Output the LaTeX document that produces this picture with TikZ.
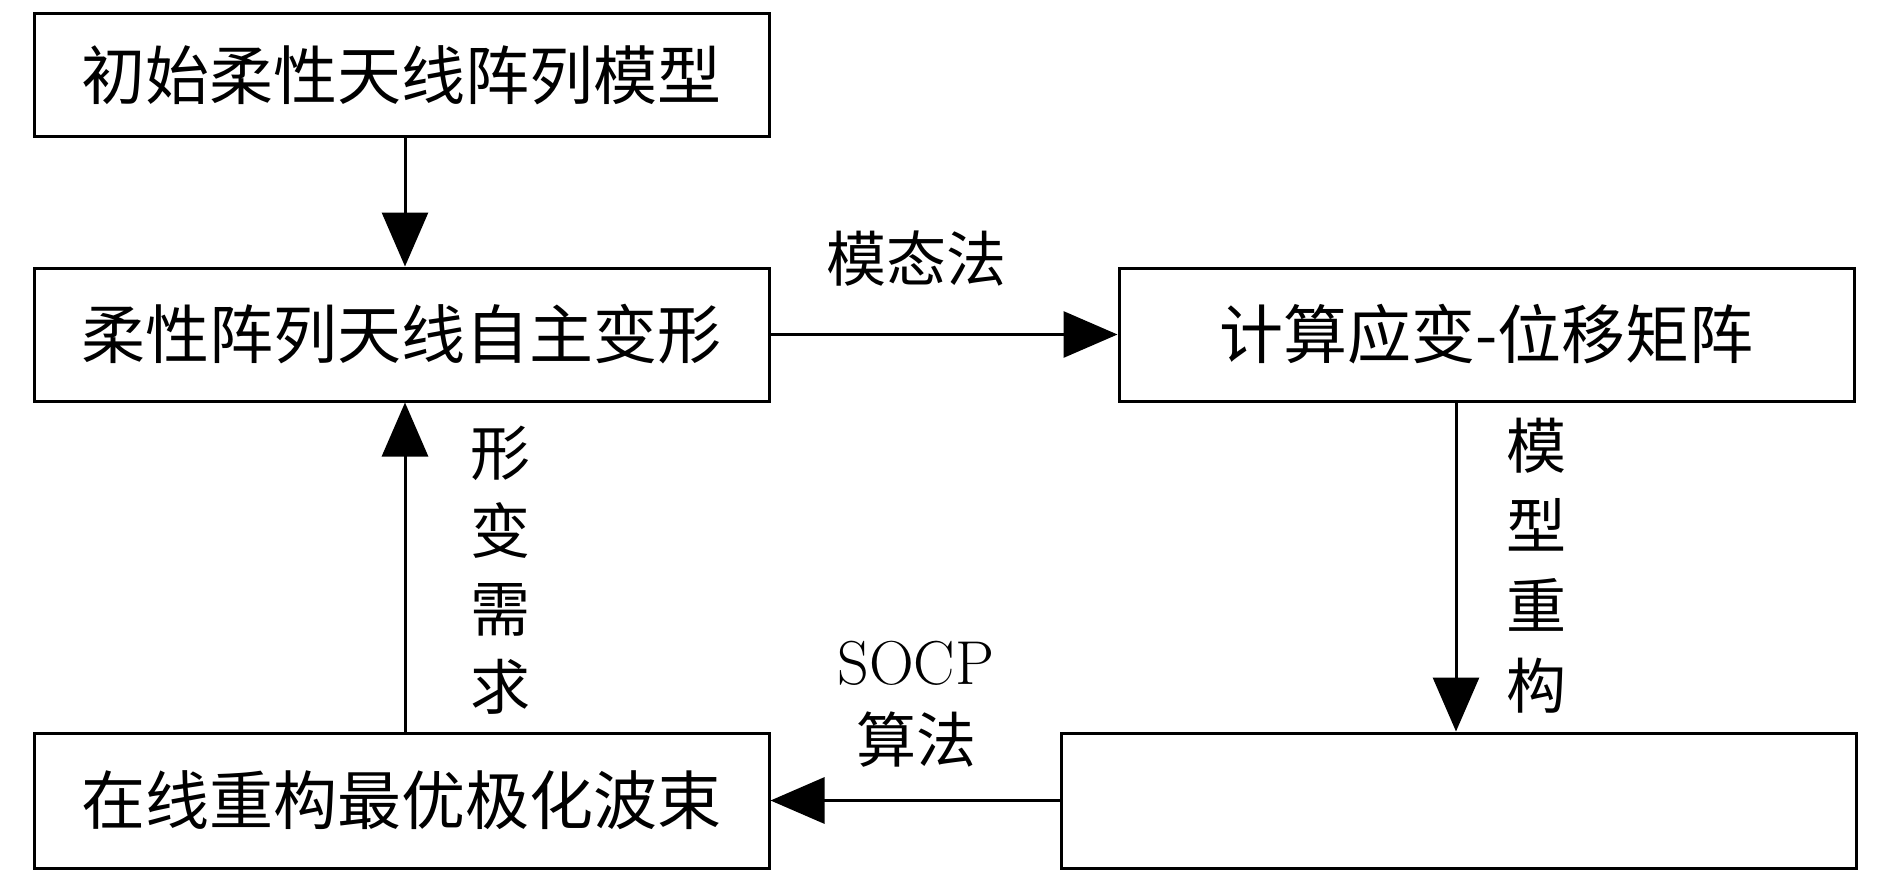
\documentclass[tikz,border=0pt]{standalone}
\usepackage{fontspec}
\newfontfamily\cjk{Noto Sans CJK SC}
\usetikzlibrary{arrows.meta}
\begin{document}
\begin{tikzpicture}[x=1pt,y=-1pt,
  box/.style={draw,line width=3pt,minimum width=735pt,minimum height=133pt,inner sep=0pt,font=\cjk\fontsize{64}{68}\selectfont},
  conn/.style={line width=3pt,-{Triangle[length=54pt,width=46pt]}},
  lbl/.style={font=\cjk\fontsize{60}{64}\selectfont,inner sep=0pt}]
\useasboundingbox (0,0) rectangle (1890,875);
\node[box,minimum height=122pt] (a) at (401.5,75) {初始柔性天线阵列模型};
\node[box] (b) at (401.5,334.5) {柔性阵列天线自主变形};
\node[box] (c) at (1486.5,334.5) {计算应变-位移矩阵};
\node[box,minimum width=795pt,minimum height=135pt] (d) at (1458.5,800.5) {};
\node[box,minimum height=135pt] (e) at (401.5,800.5) {在线重构最优极化波束};
\draw[conn] (a.south -| 405,0) -- (b.north -| 405,0);
\draw[conn] (b.east) -- (c.west);
\draw[conn] (c.south -| 1456,0) -- (d.north -| 1456,0);
\draw[conn] (d.west) -- (e.east);
\draw[conn] (e.north -| 405,0) -- (b.south -| 405,0);
\node[lbl] (l1) at (916,259) {模态法};
\node[lbl,align=center] (l2) at (1536,566) {模\\[16pt]型\\[16pt]重\\[16pt]构};
\node[lbl,align=center] (l3) at (500,570) {形\\[14pt]变\\[14pt]需\\[14pt]求};
\node[lbl,font=\fontsize{62}{66}\selectfont] (l4) at (916,663) {SOCP};
\node[lbl] (l5) at (916,740) {算法};
\end{tikzpicture}
\end{document}
